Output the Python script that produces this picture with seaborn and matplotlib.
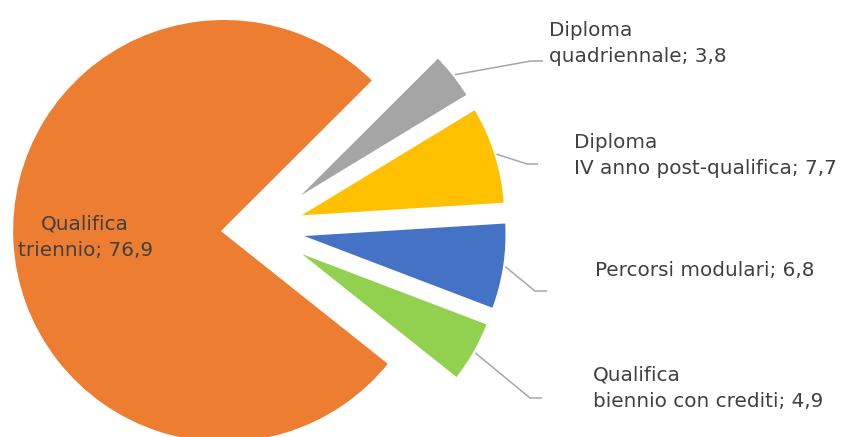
import numpy as np
import matplotlib
matplotlib.use('Agg')
import matplotlib.pyplot as plt
import seaborn as sns

# dati
categorie = ['Qualifica\ntriennio', 'Diploma\nquadriennale', 'Diploma\nIV anno post-qualifica',
             'Percorsi modulari', 'Qualifica\nbiennio con crediti']
valori = [76.9, 3.8, 7.7, 6.8, 4.9]
colori = ['#ED7D31', '#A5A5A5', '#FFC000', '#4472C4', '#92D050']

sns.set_theme(style='white')
plt.rcParams['font.family'] = ['DejaVu Sans']

W, H = 844, 437
fig = plt.figure(figsize=(W / 100, H / 100), dpi=100)
ax = fig.add_axes([0, 0, 1, 1])

# torta in coordinate pixel (y verso l'alto)
wedges, _ = ax.pie(valori, colors=colori, startangle=-38.5, counterclock=False,
                   center=(258, H - 229), radius=213, explode=[34, 37, 37, 37, 37],
                   wedgeprops=dict(edgecolor='white', linewidth=3))
ax.set_xlim(0, W)
ax.set_ylim(0, H)
ax.set_aspect('equal')
ax.axis('off')

testo = '#404040'
font = dict(fontsize=14.4, color=testo, linespacing=1.5)

def etichetta(i):
    return categorie[i] + '; ' + str(valori[i]).replace('.', ',')

# etichetta interna (baseline dell'ultima riga)
ax.text(85, H - 256, etichetta(0), ha='center', va='baseline', multialignment='center', **font)

# etichette esterne: (x testo, baseline ultima riga, gomito x, gomito y, fine x)
posizioni = {1: (549, 62, 531, 61, 543),
             2: (574, 174, 527, 164, 538),
             3: (595, 276, 535, 291, 547),
             4: (593, 407, 530, 398, 542)}
for i, (tx, ty, ex, ey, fx) in posizioni.items():
    w = wedges[i]
    mid = np.deg2rad((w.theta1 + w.theta2) / 2)
    sx = w.center[0] + w.r * np.cos(mid)
    sy = w.center[1] + w.r * np.sin(mid)
    ax.plot([sx, ex, fx], [sy, H - ey, H - ey], color='#A6A6A6', lw=1.1, solid_capstyle='butt')
    ax.text(tx, H - ty, etichetta(i), ha='left', va='baseline', **font)

fig.savefig('out.png', dpi=100)
